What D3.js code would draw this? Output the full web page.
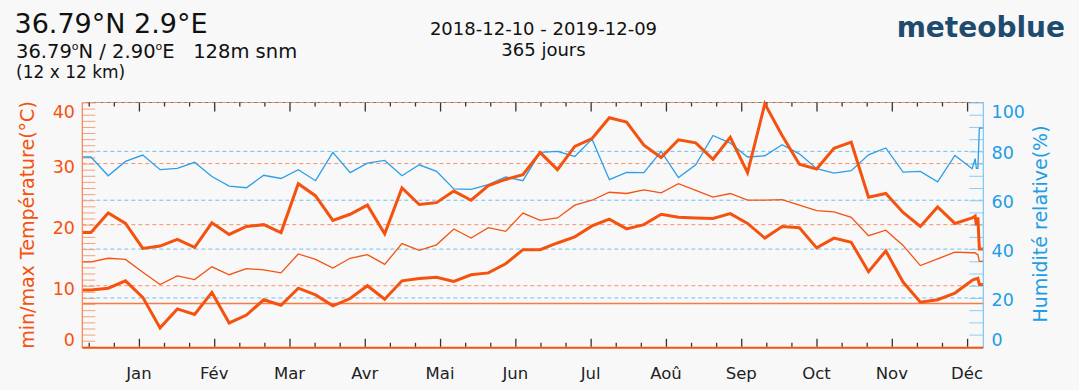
<!DOCTYPE html>
<html>
<head>
<meta charset="utf-8">
<script src="https://cdn.jsdelivr.net/npm/d3@7"></script>
<style>
  html, body { margin: 0; padding: 0; background: #f8f8f8; }
  svg { display: block; font-family: "DejaVu Sans", sans-serif; }
  text { white-space: pre; }
</style>
</head>
<body>
<svg id="chart" width="1079" height="390"></svg>
<script>
// Weekly values, 52 weeks starting 2018-12-10 (points drawn at mid-week)
const tempMax  = [18.7, 21.9, 20.2, 16.1, 16.5, 17.6, 16.3, 20.3, 18.4, 19.7, 20.0, 18.7, 26.7, 24.7, 20.7, 21.7, 23.2, 18.5, 26.0, 23.3, 23.6, 25.5, 24.0, 26.4, 27.4, 28.2, 31.8, 29.0, 32.8, 34.1, 37.5, 36.8, 33.0, 31.0, 33.9, 33.4, 30.7, 34.3, 28.5, 39.8, 34.6, 29.9, 29.1, 32.5, 33.5, 24.5, 25.1, 22.0, 19.7, 22.9, 20.2, 21.1];
const tempMean = [13.9, 14.5, 14.3, 12.2, 10.2, 11.6, 11.0, 13.1, 11.8, 12.8, 12.6, 12.1, 15.2, 14.3, 12.9, 14.5, 15.1, 13.5, 16.9, 15.8, 16.7, 19.3, 17.8, 19.5, 18.9, 21.9, 20.7, 21.1, 23.2, 24.0, 25.3, 25.1, 25.7, 25.2, 26.7, 25.6, 24.5, 25.1, 24.0, 24.0, 24.1, 23.2, 22.3, 22.1, 21.2, 18.2, 19.1, 16.6, 13.3, 14.4, 15.5, 15.4];
const tempMin  = [9.3, 9.6, 10.8, 8.1, 3.1, 6.2, 5.3, 8.9, 3.9, 5.2, 7.7, 6.8, 9.6, 8.5, 6.7, 7.9, 10.0, 7.8, 10.8, 11.2, 11.4, 10.7, 11.8, 12.1, 13.6, 15.9, 15.9, 17.0, 18.0, 19.8, 20.9, 19.3, 20.0, 21.7, 21.2, 21.1, 21.0, 21.8, 20.2, 17.8, 19.7, 19.5, 16.2, 17.8, 17.1, 12.3, 15.7, 10.6, 7.3, 7.7, 8.8, 10.9];
const humidity = [77.7, 70.0, 75.9, 78.5, 72.5, 73.0, 75.5, 69.7, 65.8, 65.1, 70.2, 68.9, 72.5, 68.0, 79.6, 71.3, 75.2, 76.3, 70.0, 74.5, 71.8, 64.6, 64.4, 66.4, 69.5, 68.0, 79.6, 80.0, 77.9, 85.0, 68.4, 71.4, 71.3, 80.0, 69.3, 74.5, 86.5, 83.4, 77.7, 78.2, 82.7, 79.0, 72.9, 71.1, 72.1, 78.6, 81.4, 71.5, 71.8, 67.5, 78.3, 72.9];

// Last days of the period (day offsets from the start date)
const tailDays     = [361.7, 362.2, 362.8, 363.4, 365];
const tailMax      = [21.4, 19.9, 21.2, 16.0, 16.0];
const tailMean     = [15.4, 15.2, 15.1, 14.0, 14.0];
const tailMin      = [11.1, 11.1, 11.2, 10.2, 10.2];
const tailHumidity = [77.0, 73.0, 73.0, 89.5, 89.5];

const refTemp = 7.1;

const monthLabels = ["Jan", "Fév", "Mar", "Avr", "Mai", "Jun", "Jul", "Aoû", "Sep", "Oct", "Nov", "Déc"];
const tempTicks = [0, 10, 20, 30, 40];
const humTicks = [0, 20, 40, 60, 80, 100];

// ---- layout ----
const plotLeft = 82.3, plotRight = 983.3, plotTop = 102.5, plotBottom = 346.8;
const ORANGE = "#f5520f", ORANGE_LIGHT = "#f7a07c", ORANGE_DASH = "#f7916a";
const BLUE = "#2a9fe8", BLUE_TEXT = "#1e9de6", BLUE_DASH = "#6cc0f2", BLUE_LIGHT = "#8ccdf5";

const svg = d3.select("#chart");
svg.append("rect").attr("width", 1079).attr("height", 390).attr("fill", "#f8f8f8");

const dayMs = 864e5;
const startDate = new Date(Date.UTC(2018, 11, 10));
const atDay = d => new Date(startDate.getTime() + d * dayMs);

const x = d3.scaleUtc().domain([startDate, atDay(365)]).range([plotLeft, plotRight]);
const yT = d3.scaleLinear().domain([0, 40]).range([plotBottom, plotTop]);
const yH = d3.scaleLinear().domain([0, 100]).range([plotBottom, plotTop]);

function points(values, tail) {
  return [{ d: 0, v: values[0] }]
    .concat(values.map((v, k) => ({ d: 3.5 + 7 * k, v })))
    .concat(tailDays.map((d, i) => ({ d, v: tail[i] })));
}

// ---- frame top line ----
svg.append("line").attr("x1", plotLeft).attr("x2", plotRight).attr("y1", plotTop).attr("y2", plotTop)
  .attr("stroke", "#777").attr("stroke-width", 1);

// ---- grid lines ----
const grid = svg.append("g");
grid.append("g").selectAll("line").data([20, 40, 60, 80, 100]).join("line")
  .attr("x1", plotLeft).attr("x2", plotRight)
  .attr("y1", d => yH(d)).attr("y2", d => yH(d))
  .attr("stroke", BLUE_DASH).attr("stroke-width", 1).attr("stroke-dasharray", "4,3");
grid.append("g").selectAll("line").data([10, 20, 30, 40]).join("line")
  .attr("x1", plotLeft).attr("x2", plotRight)
  .attr("y1", d => yT(d)).attr("y2", d => yT(d))
  .attr("stroke", ORANGE_DASH).attr("stroke-width", 1).attr("stroke-dasharray", "4,3");

// reference temperature line
svg.append("line").attr("x1", plotLeft).attr("x2", plotRight)
  .attr("y1", yT(refTemp)).attr("y2", yT(refTemp))
  .attr("stroke", "#f77a48").attr("stroke-width", 1.6);

// ---- inner axis ticks ----
const leftAxis = d3.axisRight(yT).tickValues(d3.range(0, 41, 1)).tickSize(13).tickFormat("");
const gL = svg.append("g").attr("transform", `translate(${plotLeft},0)`).call(leftAxis);
gL.selectAll(".tick line").attr("stroke", ORANGE_LIGHT).attr("stroke-width", 1);
gL.select(".domain").remove();

const rightAxis = d3.axisLeft(yH).tickValues(d3.range(0, 101, 5)).tickSize(14).tickFormat("");
const gR = svg.append("g").attr("transform", `translate(${plotRight},0)`).call(rightAxis);
gR.selectAll(".tick line").attr("stroke", BLUE_LIGHT).attr("stroke-width", 1);
gR.select(".domain").remove();

// time ticks: three per month, month labels on the major ones
const tickStep = 30.5 / 3, firstTick = 2.6;
const tickDates = d3.range(36).map(i => atDay(firstTick + i * tickStep));
const isMajor = (d, i) => i % 3 === 2;

const gTop = svg.append("g").attr("transform", `translate(0,${plotTop})`)
  .call(d3.axisBottom(x).tickValues(tickDates).tickSize(4).tickFormat(""));
gTop.select(".domain").remove();
gTop.selectAll(".tick line").attr("stroke", "#333").attr("stroke-width", 1.3)
  .attr("y2", (d, i) => isMajor(d, i) ? 9 : 4);

const gBot = svg.append("g").attr("transform", `translate(0,${plotBottom})`)
  .call(d3.axisTop(x).tickValues(tickDates).tickSize(4).tickFormat(""));
gBot.select(".domain").remove();
gBot.selectAll(".tick line").attr("stroke", "#333").attr("stroke-width", 1.3)
  .attr("y2", (d, i) => isMajor(d, i) ? -8 : -4);

// month labels
const majorDates = tickDates.filter(isMajor);
svg.append("g").selectAll("text").data(majorDates).join("text")
  .attr("x", d => x(d)).attr("y", 378.5)
  .attr("text-anchor", "middle").attr("font-size", 16.5).attr("fill", "#222")
  .text((d, i) => monthLabels[i]);

// ---- series ----
const line = (scale) => d3.line().x(p => x(atDay(p.d))).y(p => scale(p.v));

svg.append("path").datum(points(humidity, tailHumidity))
  .attr("d", line(yH)).attr("fill", "none").attr("stroke", BLUE).attr("stroke-width", 1.3);
svg.append("path").datum(points(tempMean, tailMean))
  .attr("d", line(yT)).attr("fill", "none").attr("stroke", ORANGE).attr("stroke-width", 1.3);
svg.append("path").datum(points(tempMin, tailMin))
  .attr("d", line(yT)).attr("fill", "none").attr("stroke", ORANGE).attr("stroke-width", 3);
svg.append("path").datum(points(tempMax, tailMax))
  .attr("d", line(yT)).attr("fill", "none").attr("stroke", ORANGE).attr("stroke-width", 3);

// ---- frame sides ----
svg.append("line").attr("x1", plotLeft).attr("x2", plotLeft).attr("y1", plotTop).attr("y2", plotBottom + 1)
  .attr("stroke", "#f7824f").attr("stroke-width", 1.2);
svg.append("line").attr("x1", plotRight).attr("x2", plotRight).attr("y1", plotTop).attr("y2", plotBottom + 1)
  .attr("stroke", "#7cc4f0").attr("stroke-width", 1.2);
svg.append("line").attr("x1", plotLeft).attr("x2", plotRight).attr("y1", plotBottom + 1).attr("y2", plotBottom + 1)
  .attr("stroke", ORANGE).attr("stroke-width", 2);

// ---- axis labels ----
svg.append("g").selectAll("text").data(tempTicks).join("text")
  .attr("x", 75).attr("text-anchor", "end")
  .attr("y", d => d === 40 ? yT(d) + 15.5 : d === 0 ? yT(d) - 0.5 : yT(d) + 9)
  .attr("font-size", 17.5).attr("fill", ORANGE).text(d => d);

svg.append("g").selectAll("text").data(humTicks).join("text")
  .attr("x", 991.5).attr("text-anchor", "start")
  .attr("y", d => d === 100 ? yH(d) + 15.5 : d === 0 ? yH(d) - 1 : yH(d) + 8)
  .attr("font-size", 17.5).attr("fill", BLUE_TEXT).text(d => d);

svg.append("text").attr("transform", "translate(34,225) rotate(-90)")
  .attr("text-anchor", "middle").attr("font-size", 19).attr("fill", ORANGE)
  .text("min/max Température(°C)");
svg.append("text").attr("transform", "translate(1047,224) rotate(-90)")
  .attr("text-anchor", "middle").attr("font-size", 19).attr("fill", BLUE_TEXT)
  .text("Humidité relative(%)");

// ---- header ----
svg.append("text").attr("x", 14.5).attr("y", 33).attr("font-size", 27).attr("fill", "#111")
  .text("36.79°N 2.9°E");

const sub = svg.append("text").attr("x", 16).attr("y", 57.5).attr("font-size", 19.5).attr("fill", "#111");
sub.append("tspan").text("36.79");
sub.append("tspan").attr("font-size", 11).attr("dy", -8).text("o");
sub.append("tspan").attr("dy", 8).text("N / 2.90");
sub.append("tspan").attr("font-size", 11).attr("dy", -8).text("o");
sub.append("tspan").attr("dy", 8).text("E   128m snm");

svg.append("text").attr("x", 16).attr("y", 78).attr("font-size", 17).attr("fill", "#111")
  .text("(12 x 12 km)");

svg.append("text").attr("x", 543.5).attr("y", 35).attr("text-anchor", "middle")
  .attr("font-size", 18).attr("fill", "#111").text("2018-12-10 - 2019-12-09");
svg.append("text").attr("x", 543.5).attr("y", 55.5).attr("text-anchor", "middle")
  .attr("font-size", 18).attr("fill", "#111").text("365 jours");

svg.append("text").attr("x", 1065).attr("y", 37).attr("text-anchor", "end")
  .attr("font-size", 28).attr("font-weight", "bold").attr("fill", "#1e4b6e")
  .text("meteoblue");
</script>
</body>
</html>
